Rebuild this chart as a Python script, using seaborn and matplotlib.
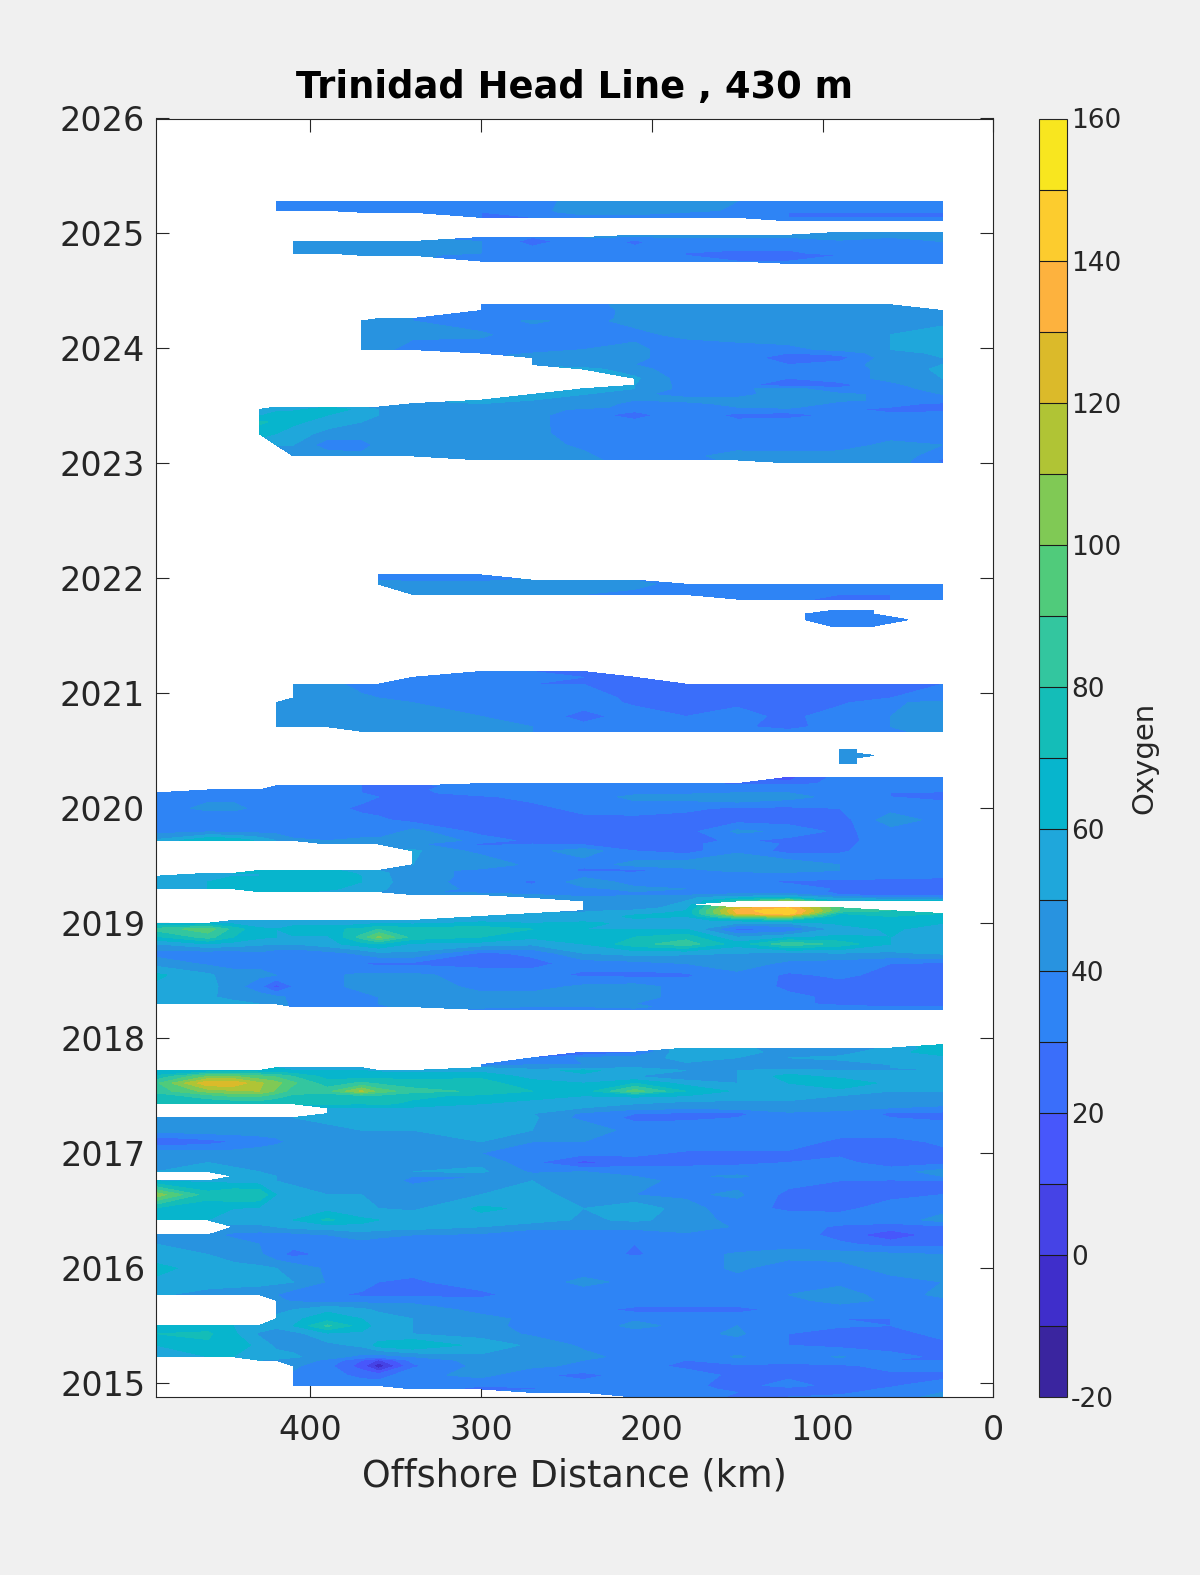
import numpy as np
import matplotlib
matplotlib.use("Agg")
import matplotlib.pyplot as plt
from matplotlib.colors import ListedColormap, BoundaryNorm
import seaborn as sns

sns.set_theme(style="ticks")
plt.rcParams['font.family'] = ['DejaVu Sans']
plt.rcParams['axes.unicode_minus'] = False

N = float("nan")
NN = [N] * 10

# Offshore distance of each column (km)
distance = [490, 460, 445, 430, 420, 410, 390, 370, 360, 340,
            300, 270, 240, 210, 180, 150, 120, 90, 60, 30]

# Cruise groups (time in years, oxygen per column)
times_2015 = [2014.88, 2014.92, 2014.95, 2014.98, 2015.07, 2015.15, 2015.2, 2015.23, 2015.33, 2015.43,
              2015.5, 2015.56, 2015.64, 2015.72, 2015.77, 2015.88, 2016.0, 2016.12, 2016.21, 2016.29,
              2016.36, 2016.42, 2016.52, 2016.64, 2016.76, 2016.8, 2016.84, 2016.92, 2017.0, 2017.1,
              2017.2, 2017.31, 2017.345, 2017.395, 2017.43, 2017.5, 2017.54, 2017.61, 2017.67, 2017.72,
              2017.745, 2017.77, 2017.83, 2017.88, 2017.915, 2017.945]
oxygen_2015 = [
    NN + [N, N, N, 36, 33, 29, 30, 32, 34, 44],
    NN + [N, 36, 35, 36, 33, 30, 28, 28, 34, 40],
    [N, N, N, N, N, N, N, N, N, 37, 26, 28, 34, 35, 33, 28, 27, 27, 31, 38],
    [N, N, N, N, N, 38, 38, 36, 36, 37, 31, 34, 34, 34, 32, 27, 33, 27, 29, 34],
    [N, N, N, N, N, 38, 34, 27, 25, 37, 43, 32, 27, 34, 34, 28, 28, 28, 28, 27],
    [N, N, N, N, N, 42, 33, 15, -8, 28, 43, 42, 38, 33, 28, 28, 28, 28, 33, 34],
    [N, N, N, 50, 48, 45, 38, 20, 8, 33, 44, 46, 40, 34, 30, 36, 33, 36, 30, 30],
    [60, 60, 60, 57, 55, 52, 44, 37, 34, 40, 48, 50, 43, 36, 34, 41, 35, 41, 33, 28],
    [60, 68, 64, 58, 47, 46, 47, 52, 64, 70, 56, 48, 38, 34, 34, 34, 30, 27, 26, 27],
    [70, 72, 62, 48, 40, 46, 58, 58, 52, 50, 46, 38, 34, 34, 36, 42, 30, 26, 26, 33],
    [66, 64, 60, 58, 55, 60, 82, 65, 56, 50, 44, 36, 31, 44, 36, 40, 33, 31, 30, 34],
    [N, N, N, N, 55, 58, 65, 60, 55, 50, 44, 37, 34, 38, 36, 36, 32, 30, 30, 33],
    [N, N, N, N, 44, 50, 58, 52, 48, 47, 36, 36, 34, 27, 27, 27, 33, 34, 33, 33],
    [N, N, N, N, 43, 38, 36, 36, 36, 36, 33, 33, 36, 37, 36, 36, 37, 44, 38, 38],
    [52, 45, 43, 42, 40, 34, 32, 28, 27, 27, 27, 36, 36, 37, 38, 36, 40, 44, 36, 42],
    [57, 56, 55, 54, 52, 50, 39, 36, 30, 28, 36, 36, 42, 38, 34, 36, 36, 38, 36, 40],
    [64, 54, 53, 52, 50, 47, 38, 36, 34, 34, 34, 34, 36, 38, 34, 42, 34, 36, 44, 46],
    [52, 50, 46, 42, 33, 27, 32, 35, 35, 34, 34, 34, 34, 29, 34, 42, 44, 44, 42, 40],
    [50, 47, 44, 40, 36, 33, 35, 36, 36, 36, 36, 30, 35, 30, 36, 31, 36, 32, 26, 27],
    [46, 42, 38, 36, 35, 36, 40, 45, 42, 40, 38, 36, 36, 36, 36, 33, 36, 26, 12, 26],
    [N, N, 46, 47, 50, 54, 55, 58, 56, 55, 50, 42, 42, 42, 50, 38, 36, 28, 26, 28],
    [60, 60, 58, 56, 58, 60, 72, 62, 60, 58, 56, 56, 48, 52, 46, 36, 36, 36, 34, 44],
    [68, 64, 60, 58, 54, 52, 56, 52, 50, 48, 62, 58, 50, 58, 44, 34, 28, 27, 35, 36],
    [106, 74, 80, 80, 60, 54, 50, 50, 48, 46, 50, 55, 44, 40, 38, 42, 27, 26, 27, 30],
    [60, 58, 56, 54, 50, 48, 46, 44, 44, 38, 44, 50, 48, 44, 36, 36, 34, 30, 29, 30],
    [N, N, 54, 52, 50, 46, 44, 44, 44, 40, 40, 44, 46, 40, 38, 42, 33, 33, 34, 40],
    [50, 54, 52, 50, 48, 46, 44, 44, 46, 50, 52, 38, 40, 38, 36, 35, 34, 36, 36, 44],
    [48, 50, 48, 46, 44, 42, 42, 46, 48, 46, 48, 32, 17, 24, 26, 28, 30, 33, 24, 27],
    [47, 44, 44, 44, 46, 48, 50, 50, 50, 48, 40, 37, 33, 33, 28, 28, 28, 28, 25, 27],
    [20, 26, 30, 36, 38, 42, 46, 46, 46, 46, 50, 40, 40, 38, 38, 38, 36, 27, 26, 32],
    [44, 46, 46, 44, 44, 44, 48, 50, 50, 50, 52, 50, 50, 34, 36, 36, 38, 36, 36, 36],
    [46, 50, 50, 50, 50, 50, 52, 52, 52, 52, 52, 52, 36, 28, 28, 30, 36, 36, 30, 28],
    [N, N, N, N, N, N, 54, 54, 54, 54, 52, 50, 38, 30, 28, 27, 38, 36, 28, 27],
    [N, N, N, N, N, N, 58, 60, 60, 58, 56, 54, 50, 44, 42, 44, 46, 44, 40, 38],
    [70, 70, 70, 72, 72, 74, 72, 70, 72, 68, 60, 58, 52, 50, 46, 46, 46, 46, 42, 42],
    [74, 86, 92, 92, 84, 78, 74, 78, 78, 72, 68, 62, 60, 62, 60, 56, 56, 50, 48, 46],
    [84, 104, 108, 110, 98, 84, 86, 112, 96, 84, 78, 70, 64, 95, 70, 58, 58, 56, 50, 50],
    [88, 128, 128, 112, 104, 92, 74, 82, 78, 74, 74, 64, 60, 70, 56, 50, 60, 70, 56, 56],
    [72, 100, 100, 92, 88, 80, 66, 64, 66, 66, 68, 56, 56, 50, 42, 50, 64, 56, 54, 52],
    [60, 60, 62, 62, 62, 60, 60, 60, 58, 56, 56, 55, 64, 52, 50, 50, 52, 50, 50, 50],
    [N, N, N, N, 60, 60, 58, 56, N, N, 50, 44, 42, 50, 48, 46, 48, 46, 50, 52],
    NN + [30, 40, 40, 44, 48, 46, 46, 46, 50, 52],
    NN + [N, 30, 42, 44, 54, 50, 50, 52, 52, 56],
    NN + [N, N, 18, 28, 60, 52, 48, 46, 56, 66],
    NN + [N, N, N, N, 60, 52, 46, 44, 52, 66],
    NN + [N, N, N, N, N, N, N, N, N, 68],
]

times_2018 = [2018.25, 2018.275, 2018.3, 2018.36, 2018.45, 2018.55, 2018.65, 2018.74, 2018.82, 2018.88,
              2018.95, 2019.0, 2019.025, 2019.06, 2019.085, 2019.11, 2019.135, 2019.165, 2019.195, 2019.225,
              2019.25, 2019.275, 2019.3, 2019.36, 2019.41, 2019.435, 2019.46, 2019.51, 2019.63, 2019.69,
              2019.72, 2019.8, 2019.9, 2020.0, 2020.1, 2020.135, 2020.16, 2020.195, 2020.215, 2020.27]
oxygen_2018 = [
    NN + [38, 38, 38, 38, 36, 34, 36, 30, 33, 34],
    [N, N, N, N, N, 38, 30, 36, 38, 44, 42, 40, 40, 42, 36, 34, 36, 32, 30, 30],
    [60, 58, 54, 50, 44, 38, 36, 36, 40, 44, 44, 44, 44, 40, 38, 35, 32, 28, 28, 30],
    [56, 52, 46, 44, 42, 38, 36, 38, 40, 44, 42, 44, 40, 42, 38, 36, 32, 28, 28, 28],
    [58, 54, 44, 34, 16, 30, 38, 42, 42, 44, 38, 36, 42, 44, 36, 36, 28, 26, 26, 27],
    [62, 52, 44, 42, 40, 38, 38, 42, 42, 42, 36, 34, 28, 27, 28, 38, 28, 32, 27, 27],
    [46, 38, 36, 38, 40, 36, 36, 30, 27, 28, 26, 27, 34, 36, 40, 44, 38, 34, 30, 28],
    [36, 34, 34, 38, 34, 32, 36, 42, 48, 48, 28, 32, 50, 54, 52, 50, 46, 50, 48, 52],
    [50, 60, 56, 52, 50, 50, 56, 66, 70, 58, 56, 52, 60, 76, 86, 64, 88, 76, 60, 56],
    [68, 84, 70, 62, 60, 58, 58, 84, 102, 76, 70, 62, 62, 70, 76, 50, 58, 62, 60, 56],
    [84, 96, 76, 62, 60, 70, 68, 72, 80, 74, 76, 70, 60, 60, 60, 26, 30, 54, 62, 54],
    [58, 62, 58, 54, 52, 52, 54, 56, 60, 58, 62, 60, 62, 58, 58, 50, 50, 62, 64, 60],
    [N, N, 54, 52, 52, 52, 54, 54, 56, 54, 58, 58, 58, 58, 58, 62, 70, 62, 62, 62],
    NN + [55, 56, 54, 62, 60, 100, 110, 62, 70, 66],
    NN + [N, 52, 52, 58, 62, 130, 148, 70, 78, 70],
    NN + [N, N, 48, 52, 60, 135, 150, 90, 80, N],
    NN + [N, N, 48, 44, 56, 125, 140, 90, N, N],
    NN + [N, N, 46, 44, 52, N, N, N, N, N],
    NN + [N, N, 44, 44, 50, 80, 105, 58, 62, 60],
    NN + [N, 42, 42, 46, 48, 56, 62, 46, 38, 36],
    [N, N, N, N, N, N, N, N, N, 45, 44, 40, 36, 36, 38, 42, 44, 30, 25, 25],
    [N, N, N, 60, 62, 62, 58, 54, 50, 42, 36, 30, 36, 40, 38, 36, 36, 28, 25, 25],
    [56, 60, 62, 64, 66, 66, 62, 56, 52, 44, 38, 34, 38, 42, 40, 38, 38, 28, 25, 24],
    [56, 60, 62, 64, 64, 66, 68, 60, 54, 44, 36, 28, 46, 36, 36, 32, 28, 26, 25, 25],
    [54, 58, 60, 60, 62, 66, 68, 60, 52, 46, 36, 34, 38, 36, 36, 34, 36, 36, 34, 32],
    [N, 58, 60, 60, 62, 66, 68, 58, 52, 46, 36, 36, 36, 32, 34, 36, 38, 36, 36, 34],
    [N, N, N, 62, 64, 66, 62, 56, 50, 46, 36, 38, 27, 27, 36, 44, 44, 40, 36, 36],
    [N, N, N, N, N, N, N, N, N, 50, 50, 36, 34, 44, 46, 50, 48, 40, 38, 36],
    [N, N, N, N, N, N, N, N, N, 52, 36, 36, 46, 30, 26, 38, 26, 28, 38, 38],
    [N, N, N, N, N, N, 46, 44, 42, 42, 28, 30, 28, 26, 26, 38, 28, 27, 36, 36],
    [52, 70, 68, 58, 50, 42, 40, 44, 44, 50, 36, 27, 26, 26, 26, 32, 26, 26, 36, 36],
    [36, 38, 37, 36, 36, 34, 32, 30, 30, 44, 26, 26, 26, 27, 26, 42, 38, 27, 36, 36],
    [36, 33, 33, 33, 33, 33, 33, 33, 32, 26, 30, 26, 26, 26, 26, 26, 24, 25, 46, 36],
    [36, 42, 42, 38, 36, 36, 33, 28, 26, 26, 26, 26, 34, 36, 32, 28, 28, 30, 36, 36],
    [40, 38, 38, 36, 34, 33, 33, 33, 30, 28, 28, 34, 36, 42, 44, 50, 44, 36, 30, 27],
    [36, 36, 36, 36, 36, 36, 32, 30, 28, 27, 36, 36, 36, 38, 38, 40, 40, 36, 30, 28],
    [N, 36, 36, 36, 36, 36, 36, 30, 28, 28, 36, 36, 36, 36, 36, 36, 36, 38, 36, 34],
    [N, N, N, N, 36, 36, 36, 30, 28, 26, 36, 40, 36, 36, 36, 36, 36, 36, 36, 36],
    NN + [40, 40, 38, 36, 36, 26, 22, 36, 36, 36],
    NN + [N, N, N, N, N, N, 17, 34, 36, 36],
]

times_2021 = [2020.67, 2020.71, 2020.8, 2020.92, 2020.96, 2021.08, 2021.14, 2021.19]
oxygen_2021 = [
    [N, N, N, N, N, N, N, 40, 40, 40, 44, 40, 36, 36, 36, 34, 33, 34, 38, 44],
    [N, N, N, N, 44, 44, 44, 42, 42, 44, 44, 40, 34, 38, 34, 32, 26, 36, 40, 46],
    [N, N, N, N, 44, 44, 46, 44, 44, 46, 40, 38, 25, 36, 30, 34, 27, 36, 40, 46],
    [N, N, N, N, 44, 46, 46, 44, 42, 40, 38, 36, 36, 28, 26, 28, 26, 28, 38, 44],
    [N, N, N, N, N, 44, 44, 42, 40, 38, 36, 34, 36, 27, 26, 26, 26, 28, 30, 32],
    [N, N, N, N, N, 44, 44, 36, 34, 34, 34, 30, 30, 28, 26, 26, 20, 26, 28, 30],
    [N, N, N, N, N, N, N, N, N, 36, 34, 32, 30, 30, N, N, N, N, N, N],
    NN + [32, 30, 28, N, N, N, N, N, N, N],
]

times_2022 = [2021.82, 2021.86, 2021.95, 2021.985, 2022.03]
oxygen_2022 = [
    NN + [N, N, N, N, N, 36, 34, 26, 30, 36],
    [N, N, N, N, N, N, N, N, N, 44, 44, 44, 40, 36, 34, 34, 34, 30, 30, 36],
    [N, N, N, N, N, N, N, N, 44, 44, 44, 50, 50, 44, 34, 34, 34, 34, 36, 36],
    [N, N, N, N, N, N, N, N, 40, 38, 38, 42, 46, 40, N, N, N, N, N, N],
    [N, N, N, N, N, N, N, N, 36, 36, 34, N, N, N, N, N, N, N, N, N],
]

times_2023 = [2023.005, 2023.03, 2023.065, 2023.16, 2023.26, 2023.36, 2023.42, 2023.47, 2023.49, 2023.52,
              2023.55, 2023.6, 2023.65, 2023.68, 2023.74, 2023.82, 2023.86, 2023.92, 2023.96, 2023.99,
              2024.12, 2024.24, 2024.26, 2024.33, 2024.38]
oxygen_2023 = [
    NN + [N, N, N, N, N, N, 46, 50, 46, 30],
    NN + [44, 44, 44, 33, 33, 44, 44, 50, 48, 28],
    [N, N, N, N, N, 48, 46, 44, 44, 44, 50, 44, 42, 33, 36, 46, 44, 46, 44, 36],
    [N, N, N, N, 50, 50, 34, 34, 44, 46, 44, 44, 38, 33, 33, 33, 33, 33, 44, 40],
    [N, N, N, 64, 60, 56, 46, 46, 46, 50, 44, 44, 33, 32, 33, 33, 33, 33, 33, 40],
    [N, N, N, 72, 68, 62, 56, 50, 50, 50, 44, 42, 36, 34, 33, 33, 36, 33, 33, 40],
    [N, N, N, 58, 66, 70, 60, 52, 50, 48, 46, 42, 36, 24, 40, 26, 25, 33, 33, 33],
    [N, N, N, 50, 56, 56, 68, 56, 50, 48, 46, 44, 38, 34, 36, 38, 38, 33, 26, 28],
    [N, N, N, N, 50, 50, 60, 50, 48, 48, 46, 46, 44, 36, 38, 40, 42, 33, 30, 30],
    [N, N, N, N, N, N, N, N, N, 48, 50, 48, 44, 38, 36, 44, 50, 36, 33, 28],
    NN + [52, 50, 46, 40, 44, 44, 50, 42, 38, 38],
    NN + [N, 52, 50, 42, 36, 36, 46, 42, 38, 40],
    NN + [N, N, 56, 50, 36, 38, 44, 32, 36, 44],
    NN + [N, N, N, 50, 36, 33, 24, 27, 36, 50],
    NN + [N, N, N, 52, 34, 34, 30, 34, 44, 50],
    NN + [N, N, 54, 44, 33, 36, 36, 34, 44, 52],
    NN + [N, 46, 42, 40, 30, 34, 30, 34, 46, 50],
    NN + [N, 44, 44, 44, 30, 34, 26, 26, 46, 50],
    NN + [36, 40, 44, 44, 30, 34, 30, 34, 46, 52],
    [N, N, N, N, N, N, N, 48, 46, 32, 33, 36, 40, 44, 30, 36, 38, 42, 50, 60],
    [N, N, N, N, N, N, N, 44, 44, 44, 42, 33, 33, 36, 44, 44, 44, 44, 50, 60],
    [N, N, N, N, N, N, N, 44, 44, 40, 33, 42, 36, 44, 44, 44, 44, 44, 44, 44],
    [N, N, N, N, N, N, N, N, 44, 40, 33, 36, 34, 44, 44, 44, 44, 44, 44, 44],
    NN + [33, 33, 33, 44, 50, 44, 44, 44, 44, 44],
    NN + [34, 34, 36, 44, 50, 50, 44, 44, 44, N],
]

times_2025 = [2024.74, 2024.76, 2024.81, 2024.83, 2024.93, 2024.965, 2024.985, 2025.01]
oxygen_2025 = [
    NN + [N, N, N, N, N, N, 34, 34, 36, 36],
    NN + [36, 40, 38, 36, 34, 30, 30, 32, 36, 36],
    [N, N, N, N, N, N, N, 44, 44, 42, 36, 36, 38, 34, 30, 26, 26, 30, 36, 38],
    [N, N, N, N, N, 44, 44, 44, 44, 44, 40, 36, 38, 34, 30, 28, 28, 34, 38, 38],
    [N, N, N, N, N, 44, 44, 44, 44, 44, 40, 26, 36, 28, 36, 36, 36, 38, 40, 40],
    NN + [36, 30, 40, 38, 40, 40, 40, 44, 40, 44],
    NN + [N, N, N, 44, 44, 44, 44, 44, 44, 44],
    NN + [N, N, N, N, N, N, N, 40, 40, 44],
]

times_2025b = [2025.11, 2025.14, 2025.185, 2025.2, 2025.28]
oxygen_2025b = [
    NN + [N, N, N, N, N, N, 34, 34, 34, 34],
    NN + [30, 30, 36, 36, 36, 34, 30, 30, 30, 30],
    [N, N, N, N, N, N, N, 34, 34, 34, 30, 36, 44, 44, 40, 36, 30, 30, 30, 30],
    [N, N, N, N, 34, 34, 34, 34, 34, 34, 34, 36, 46, 44, 44, 38, 36, 36, 36, 36],
    [N, N, N, N, 34, 34, 34, 34, 36, 36, 36, 36, 44, 44, 44, 40, 38, 38, 38, 38],
]

# Two small isolated patches, on their own short columns
distance_2020 = [90, 80, 70]
times_2020 = [2020.39, 2020.44, 2020.46, 2020.48, 2020.516]
oxygen_2020 = [
    [44, 44, N],
    [44, 44, N],
    [44, 44, 44],
    [44, 44, N],
    [44, 44, N],
]

distance_2021b = [110, 95, 70, 50]
times_2021b = [2021.585, 2021.64, 2021.69, 2021.72]
oxygen_2021b = [
    [N, 34, 34, N],
    [34, 34, 34, 34],
    [34, 34, 34, N],
    [N, 34, 34, N],
]

levels = list(range(-20, 170, 10))
level_colors = ["#3A259F", "#3F2ECB", "#4543E6", "#4757FB", "#3A6EFA", "#2E84F5",
                "#2893E0", "#1FA7DB", "#07B5CD", "#14BDB8", "#33C69F", "#50CB7B",
                "#80C955", "#B0C435", "#DBBA2A", "#FDB23E", "#FCCC2E", "#F8E61F"]

# Stack the groups with an empty row between them so nothing bridges the gaps
groups = [(times_2015, oxygen_2015), (times_2018, oxygen_2018), (times_2021, oxygen_2021),
          (times_2022, oxygen_2022), (times_2023, oxygen_2023), (times_2025, oxygen_2025),
          (times_2025b, oxygen_2025b)]
all_times = []
all_rows = []
for i, (t, o) in enumerate(groups):
    all_times.extend(t)
    all_rows.extend(o)
    if i < len(groups) - 1:
        all_times.append((t[-1] + groups[i + 1][0][0]) / 2)
        all_rows.append([N] * len(distance))
grid = np.ma.masked_invalid(np.array(all_rows, dtype=float))

cmap = ListedColormap(sns.color_palette(level_colors))
norm = BoundaryNorm(levels, cmap.N)

W, H = 1200, 1575
fig = plt.figure(figsize=(12, 15.75), dpi=100, facecolor="#F0F0F0")
ax = fig.add_axes([156.3 / W, 1 - 1397 / H, (993.3 - 156.3) / W, (1397 - 118.5) / H], facecolor="white")

cf = ax.contourf(distance, all_times, grid, levels=levels, cmap=cmap, norm=norm)
for d, t, o in [(distance_2020, times_2020, oxygen_2020), (distance_2021b, times_2021b, oxygen_2021b)]:
    ax.contourf(d, t, np.ma.masked_invalid(np.array(o, dtype=float)), levels=levels, cmap=cmap, norm=norm)

ax.set_xlim(490.2, 0)
ax.set_ylim(2014.88, 2026)
ax.set_xticks([400, 300, 200, 100, 0])
ax.set_yticks(range(2015, 2027))
ax.tick_params(axis="both", direction="in", length=9.4, width=0.8, top=True, right=True,
               labelsize=24, labelcolor="#262626", color="#262626")
ax.tick_params(axis="y", pad=8)
ax.tick_params(axis="x", pad=12)
for s in ax.spines.values():
    s.set_color("#262626")
    s.set_linewidth(0.8)
ax.set_xlabel("Offshore Distance (km)", fontsize=26.4, color="#262626", labelpad=8)
ax.set_title("Trinidad Head Line , 430 m", fontsize=26.6, fontweight="bold", color="black", pad=15)

cax = fig.add_axes([1039 / W, 1 - 1397 / H, 27.7 / W, (1397 - 118.5) / H])
cbar = fig.colorbar(cf, cax=cax, ticks=list(range(-20, 161, 20)), drawedges=True, spacing="proportional")
cbar.dividers.set_color("#1a1a1a")
cbar.dividers.set_linewidth(0.8)
cbar.outline.set_edgecolor("#262626")
cbar.outline.set_linewidth(0.8)
cax.minorticks_off()
cax.tick_params(which="both", length=0, labelsize=19, labelcolor="#262626", pad=3)
cbar.set_label("Oxygen", fontsize=21, color="#262626", rotation=90, labelpad=7)

fig.savefig("out.png", dpi=100, facecolor=fig.get_facecolor())
